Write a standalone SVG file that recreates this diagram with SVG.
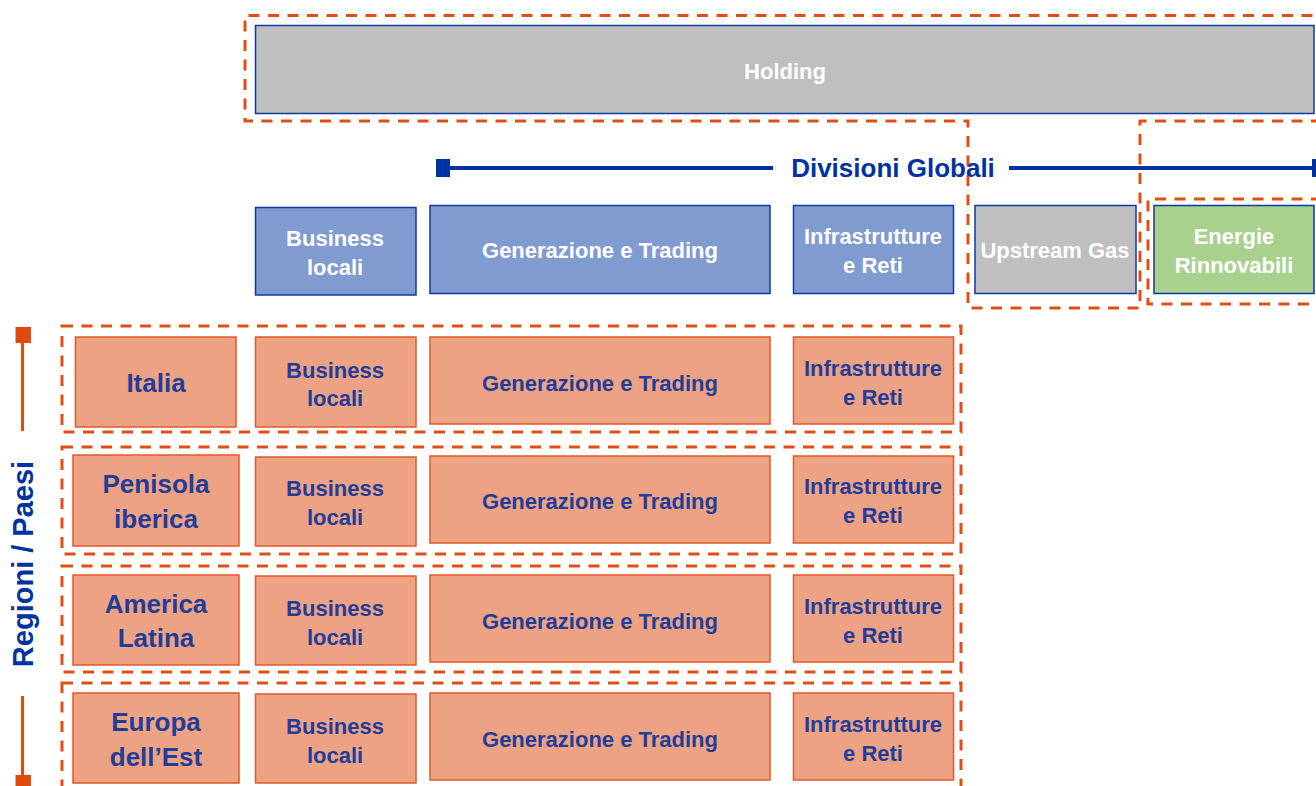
<svg xmlns="http://www.w3.org/2000/svg" width="1316" height="786" viewBox="0 0 1316 786">
<style>
.dash{fill:none;stroke:#E04E14;stroke-width:3;stroke-dasharray:11 8.5}
.gray{fill:#BFBFBF;stroke:#0D3AA0;stroke-width:1.5}
.blue{fill:#7F9BD0;stroke:#0D3AA0;stroke-width:1.5}
.green{fill:#A9D18E;stroke:#0D3AA0;stroke-width:1.5}
.org{fill:#EDA283;stroke:#E2582A;stroke-width:1.5}
text{font-family:"Liberation Sans",Arial,sans-serif;font-weight:bold;text-anchor:middle}
.w{fill:#FFFFFF;font-size:22px}
.b{fill:#1F3D99;font-size:22px}
.bb{fill:#1F3D99;font-size:26px}
.axisB{stroke:#0033A0;stroke-width:4;fill:none}
.axisO{stroke:#E04A0F;stroke-width:3;fill:none}
</style>
<g id="frames">
<path class="dash" d="M1322,121 H1140 V308 H968 V121 H245 V15.5 H1322"/>
<path class="dash" d="M1322,199 H1148 V304 H1322"/>
<rect class="dash" x="62" y="326" width="899" height="106"/>
<rect class="dash" x="62" y="447" width="899" height="107"/>
<rect class="dash" x="62" y="566" width="899" height="106"/>
<rect class="dash" x="62" y="683" width="899" height="120"/>
</g>
<g id="connectors">
<rect x="436" y="159" width="14" height="18" fill="#0033A0"/>
<line class="axisB" x1="450" y1="168" x2="773" y2="168"/>
<line class="axisB" x1="1009" y1="168" x2="1316" y2="168"/>
<rect x="1312" y="159" width="14" height="18" fill="#0033A0"/>
<rect x="15.5" y="327" width="15.5" height="16" fill="#E04A0F"/>
<line class="axisO" x1="22.5" y1="343" x2="22.5" y2="431"/>
<line class="axisO" x1="22.5" y1="696" x2="22.5" y2="776"/>
<rect x="15.5" y="775" width="15.5" height="16" fill="#E04A0F"/>
</g>
<g id="label-divisioni"><text x="893" y="177" style="fill:#0033A0;font-size:26px">Divisioni Globali</text></g>
<g id="label-regioni"><text transform="translate(32.5,564) rotate(-90)" style="fill:#0033A0;font-size:29px">Regioni / Paesi</text></g>
<g id="holding"><rect class="gray" x="255.5" y="25.5" width="1058.5" height="88"/><text class="w" x="785" y="79">Holding</text></g>
<g id="top-business"><rect class="blue" x="255.5" y="207.5" width="160.5" height="87.5"/><text class="w" x="335" y="246">Business</text><text class="w" x="335" y="275">locali</text></g>
<g id="top-generazione"><rect class="blue" x="430" y="205.5" width="340" height="88"/><text class="w" x="600" y="258">Generazione e Trading</text></g>
<g id="top-infra"><rect class="blue" x="793.5" y="205.5" width="160" height="88"/><text class="w" x="873" y="244">Infrastrutture</text><text class="w" x="873" y="273">e Reti</text></g>
<g id="top-upstream"><rect class="gray" x="975" y="205.5" width="161" height="88"/><text class="w" x="1055" y="258">Upstream Gas</text></g>
<g id="top-energie"><rect class="green" x="1154" y="205.5" width="160" height="88"/><text class="w" x="1234" y="244">Energie</text><text class="w" x="1234" y="273">Rinnovabili</text></g>

<g id="row-italia">
<rect class="org" x="75.5" y="337" width="160.5" height="90"/><text class="bb" x="156" y="392">Italia</text>
</g>
<g id="italia-business"><rect class="org" x="255.5" y="337" width="160.5" height="90"/><text class="b" x="335" y="378">Business</text><text class="b" x="335" y="406">locali</text></g>
<g id="italia-generazione"><rect class="org" x="430" y="337" width="340" height="87"/><text class="b" x="600" y="391">Generazione e Trading</text></g>
<g id="italia-infra"><rect class="org" x="793.5" y="337" width="160" height="87"/><text class="b" x="873" y="376">Infrastrutture</text><text class="b" x="873" y="405">e Reti</text></g>

<g id="row-penisola">
<rect class="org" x="73" y="455" width="166" height="91"/><text class="bb" x="156" y="493">Penisola</text><text class="bb" x="156" y="528">iberica</text>
</g>
<g id="penisola-business"><rect class="org" x="255.5" y="457" width="160.5" height="89"/><text class="b" x="335" y="496">Business</text><text class="b" x="335" y="525">locali</text></g>
<g id="penisola-generazione"><rect class="org" x="430" y="456" width="340" height="87"/><text class="b" x="600" y="509">Generazione e Trading</text></g>
<g id="penisola-infra"><rect class="org" x="793.5" y="456" width="160" height="87"/><text class="b" x="873" y="494">Infrastrutture</text><text class="b" x="873" y="523">e Reti</text></g>

<g id="row-america">
<rect class="org" x="73" y="575" width="166" height="90"/><text class="bb" x="156" y="613">America</text><text class="bb" x="156" y="647">Latina</text>
</g>
<g id="america-business"><rect class="org" x="255.5" y="576" width="160.5" height="89"/><text class="b" x="335" y="616">Business</text><text class="b" x="335" y="645">locali</text></g>
<g id="america-generazione"><rect class="org" x="430" y="575" width="340" height="87"/><text class="b" x="600" y="629">Generazione e Trading</text></g>
<g id="america-infra"><rect class="org" x="793.5" y="575" width="160" height="87"/><text class="b" x="873" y="614">Infrastrutture</text><text class="b" x="873" y="643">e Reti</text></g>

<g id="row-europa">
<rect class="org" x="73" y="693" width="166" height="90"/><text class="bb" x="156" y="731">Europa</text><text class="bb" x="156" y="766">dell’Est</text>
</g>
<g id="europa-business"><rect class="org" x="255.5" y="694" width="160.5" height="89"/><text class="b" x="335" y="734">Business</text><text class="b" x="335" y="763">locali</text></g>
<g id="europa-generazione"><rect class="org" x="430" y="693" width="340" height="87"/><text class="b" x="600" y="747">Generazione e Trading</text></g>
<g id="europa-infra"><rect class="org" x="793.5" y="693" width="160" height="87"/><text class="b" x="873" y="732">Infrastrutture</text><text class="b" x="873" y="761">e Reti</text></g>
</svg>
